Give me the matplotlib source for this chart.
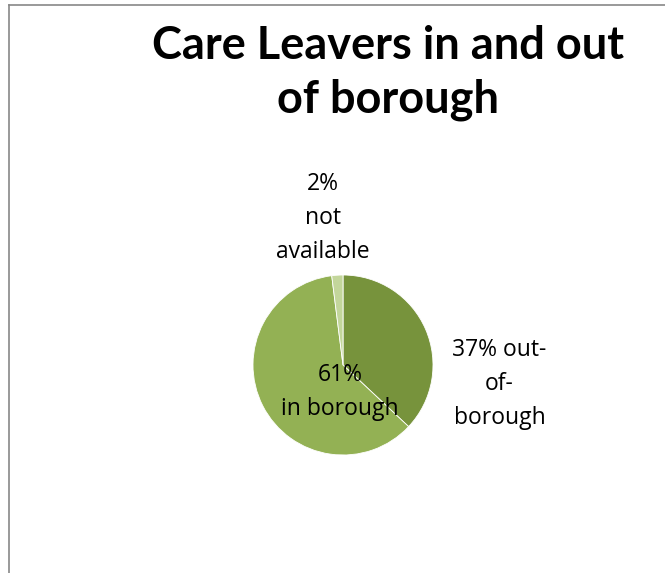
import matplotlib.pyplot as plt
from matplotlib.lines import Line2D

# slice data (clockwise from 12 o'clock)
categories = ["out-of-borough", "in borough", "not available"]
shares = [37, 61, 2]
labels = ["37% out-\nof-\nborough", "61%\nin borough", "2%\nnot\navailable"]
colors = ["#77933C", "#93B154", "#C3D69B"]
title = "Care Leavers in and out\nof borough"

plt.rcParams['font.family'] = ['Open Sans', 'DejaVu Sans']

fig = plt.figure(figsize=(6.65, 5.73), dpi=100)
W, H = 665, 573

# pie centre and radius in pixels
cx, cy, r = 343, 365, 90
ax = fig.add_axes([(cx - r) / W, (H - cy - r) / H, 2 * r / W, 2 * r / H])
ax.pie(shares, colors=colors, startangle=90, counterclock=False,
       radius=1, wedgeprops={'linewidth': 0.6, 'edgecolor': 'white'})
ax.set_xlim(-1, 1)
ax.set_ylim(-1, 1)
ax.set_aspect('equal')
ax.axis('off')

# data labels (positions in pie-radius units)
label_pos = [(1.74, -0.21), (-0.03, -0.30), (-0.22, 1.63)]
for lab, (x, y) in zip(labels, label_pos):
    ax.text(x, y, lab, ha='center', va='center', fontsize=16.5,
            linespacing=1.55, color='black')

fig.text(388 / W, 1 - 73 / H, title, ha='center', va='center',
         fontsize=32.5, fontweight='bold', linespacing=1.35, family=['Lato', 'DejaVu Sans'])

# chart area border (left and top edges visible)
fig.add_artist(Line2D([9 / W, 9 / W], [0, 1 - 5 / H], transform=fig.transFigure,
                      color='#878787', linewidth=1.2))
fig.add_artist(Line2D([9 / W, 1], [1 - 5 / H, 1 - 5 / H], transform=fig.transFigure,
                      color='#878787', linewidth=1.2))

fig.savefig('out.png', dpi=100)
